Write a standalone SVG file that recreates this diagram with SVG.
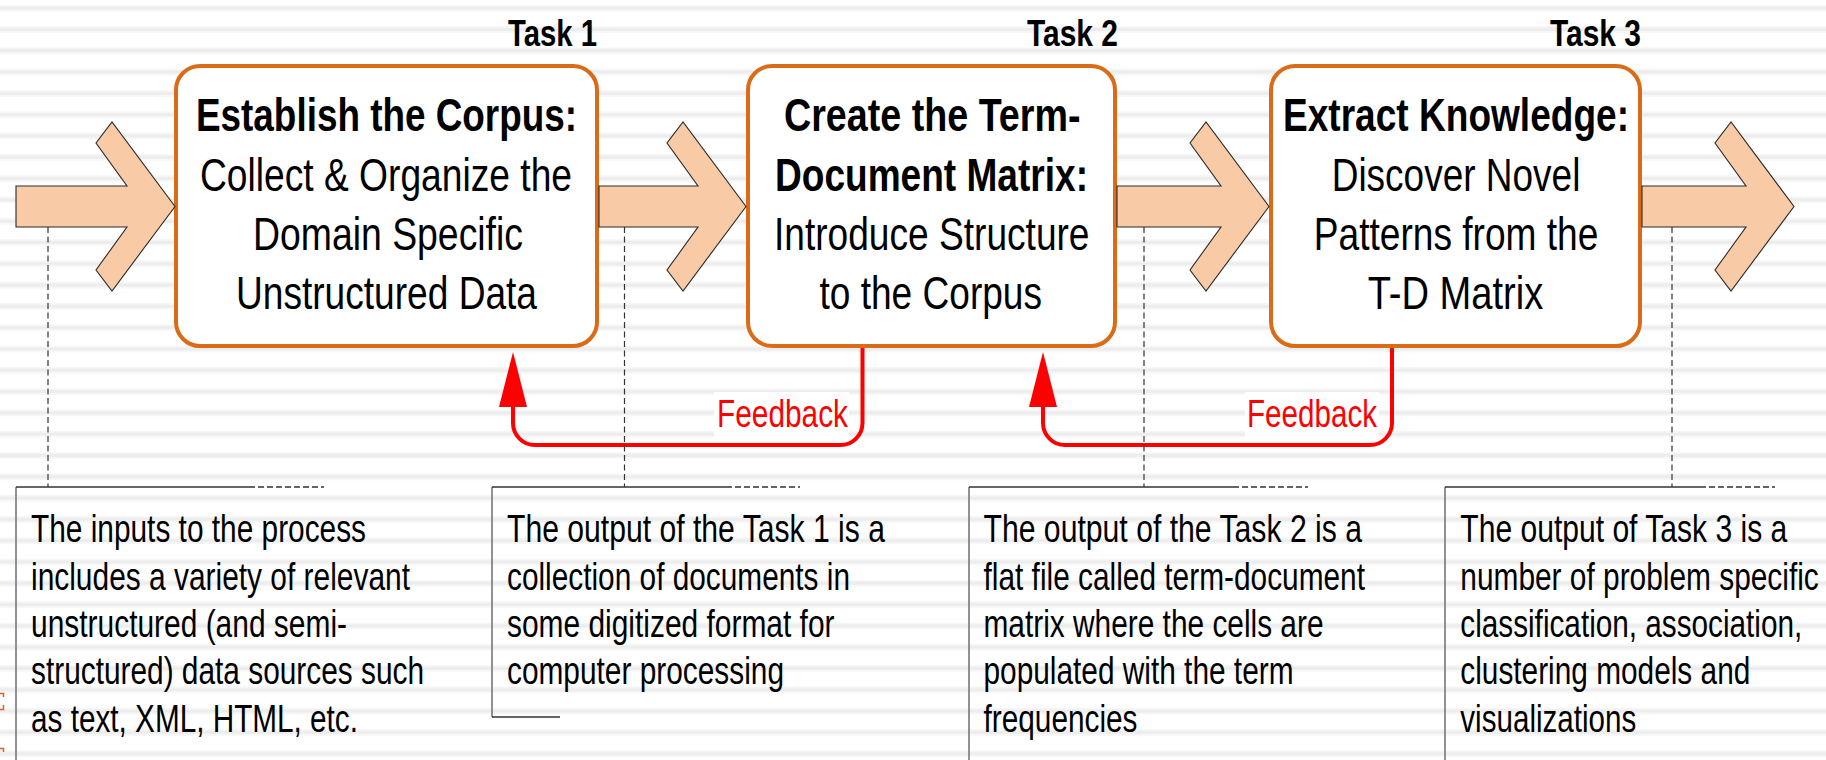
<svg xmlns="http://www.w3.org/2000/svg" width="1826" height="760" viewBox="0 0 1826 760">
  <style>
    .task { fill: #ffffff; stroke: #DA6B17; stroke-width: 4; }
    .flow { fill: #F8CBA6; stroke: #2a2a2a; stroke-width: 1.1; stroke-linejoin: miter; }
    .txt { font-family: "Liberation Sans Narrow", "Arial Narrow", "Liberation Sans", Arial, sans-serif; fill: #000000; }
    .head { font-size: 45.5px; font-weight: bold; }
    .body { font-size: 45.5px; }
    .label { font-size: 36px; font-weight: bold; }
    .note { font-size: 38px; }
    .fb-text { font-family: "Liberation Sans Narrow", "Arial Narrow", "Liberation Sans", Arial, sans-serif; font-size: 38px; fill: #FF0000; }
    .fb { fill: none; stroke: #FF0000; stroke-width: 4; marker-end: url(#redHead); }
    .leader { fill: none; stroke: #333333; stroke-width: 1.2; stroke-dasharray: 6 3.5; }
    .edge { fill: none; stroke: #6e6e6e; stroke-width: 1.5; }
    .rule { fill: none; stroke: #333333; stroke-width: 1.3; }
    .rule-dash { fill: none; stroke: #333333; stroke-width: 1.3; stroke-dasharray: 6 3; }
  </style>
  <defs>
    <pattern id="stripes" patternUnits="userSpaceOnUse" x="0" y="0" width="20" height="21.3">
      <rect x="0" y="0" width="20" height="21.3" fill="#ffffff"/>
      <rect x="0" y="5" width="20" height="1.5" fill="#F6F6F6"/>
      <rect x="0" y="6.5" width="20" height="3.5" fill="#EDEDED"/>
      <rect x="0" y="10" width="20" height="1.5" fill="#F6F6F6"/>
    </pattern>
    <marker id="redHead" viewBox="0 0 55 28" refX="0" refY="14" markerWidth="55" markerHeight="28" markerUnits="userSpaceOnUse" orient="auto">
      <path d="M0,0 L55,14 L0,28 Z" fill="#FF0000"/>
    </marker>
  </defs>

  <!-- slide background -->
  <rect x="0" y="0" width="1826" height="760" fill="url(#stripes)"/>
  <path d="M0,693.5 H3.5 V697 M3.5,705 V709.5 H0 M0,748.5 H3.5 V752" fill="none" stroke="#E0602A" stroke-width="1.5"/>

  <!-- task boxes -->
  <g id="task1">
    <rect class="task" x="176" y="66" width="421" height="280" rx="24" ry="24"/>
    <text class="txt label" x="508" y="46" textLength="89" lengthAdjust="spacingAndGlyphs">Task 1</text>
    <text class="txt head" x="196" y="131" textLength="381" lengthAdjust="spacingAndGlyphs">Establish the Corpus:</text>
    <text class="txt body" x="200" y="190.5" textLength="372" lengthAdjust="spacingAndGlyphs">Collect &amp; Organize the</text>
    <text class="txt body" x="253" y="250" textLength="270" lengthAdjust="spacingAndGlyphs">Domain Specific</text>
    <text class="txt body" x="236" y="309" textLength="301" lengthAdjust="spacingAndGlyphs">Unstructured Data</text>
  </g>

  <g id="task2">
    <rect class="task" x="748" y="66" width="367" height="280" rx="24" ry="24"/>
    <text class="txt label" x="1027" y="46" textLength="91" lengthAdjust="spacingAndGlyphs">Task 2</text>
    <text class="txt head" x="784" y="131" textLength="296.5" lengthAdjust="spacingAndGlyphs">Create the Term-</text>
    <text class="txt head" x="775" y="190.5" textLength="313" lengthAdjust="spacingAndGlyphs">Document Matrix:</text>
    <text class="txt body" x="774" y="250" textLength="315.5" lengthAdjust="spacingAndGlyphs">Introduce Structure</text>
    <text class="txt body" x="819.5" y="309" textLength="222.5" lengthAdjust="spacingAndGlyphs">to the Corpus</text>
  </g>

  <g id="task3">
    <rect class="task" x="1271" y="66" width="369" height="280" rx="24" ry="24"/>
    <text class="txt label" x="1550" y="46" textLength="91" lengthAdjust="spacingAndGlyphs">Task 3</text>
    <text class="txt head" x="1283" y="131" textLength="346" lengthAdjust="spacingAndGlyphs">Extract Knowledge:</text>
    <text class="txt body" x="1331.7" y="190.5" textLength="248.7" lengthAdjust="spacingAndGlyphs">Discover Novel</text>
    <text class="txt body" x="1313.8" y="250" textLength="284.6" lengthAdjust="spacingAndGlyphs">Patterns from the</text>
    <text class="txt body" x="1367.7" y="309" textLength="175.6" lengthAdjust="spacingAndGlyphs">T-D Matrix</text>
  </g>

  <!-- block arrows between the stages -->
  <g id="flow-arrows">
    <polygon id="flow-in" class="flow" points="16,186 127,186 96,143 112,122 175,206.5 112,291 96,270 127,227 16,227"/>
    <polygon id="flow-1-2" class="flow" points="599,186 698,186 667,143 683,122 746,206.5 683,291 667,270 698,227 599,227"/>
    <polygon id="flow-2-3" class="flow" points="1117,186 1221,186 1190,143 1206,122 1269,206.5 1206,291 1190,270 1221,227 1117,227"/>
    <polygon id="flow-out" class="flow" points="1642,186 1746,186 1715,143 1731,122 1794,206.5 1731,291 1715,270 1746,227 1642,227"/>
  </g>

  <!-- feedback loops and callout leaders -->
  <g id="connectors">
    <path id="feedback-2-1" class="fb" d="M862.5,348 V423 A22,22 0 0 1 840.5,445 H535 A22,22 0 0 1 513,423 V407"/>
    <path id="feedback-3-2" class="fb" d="M1392,348 V423 A22,22 0 0 1 1370,445 H1065 A22,22 0 0 1 1043,423 V407"/>
    <path class="leader" d="M48,227 V487"/>
    <path class="leader" d="M624.5,227 V487"/>
    <path class="leader" d="M1144,227 V487"/>
    <path class="leader" d="M1672,227 V487"/>
  </g>

  <g id="feedback-label-1">
    <rect x="714" y="392" width="135" height="46" fill="#ffffff"/>
    <text class="fb-text" x="717" y="427" textLength="131" lengthAdjust="spacingAndGlyphs">Feedback</text>
  </g>
  <g id="feedback-label-2">
    <rect x="1245" y="392" width="134" height="46" fill="#ffffff"/>
    <text class="fb-text" x="1247" y="427" textLength="130" lengthAdjust="spacingAndGlyphs">Feedback</text>
  </g>

  <!-- callout notes -->
  <g id="note-inputs">
    <path class="edge" d="M16,487 V760"/>
    <path class="rule" d="M16,487 H249"/>
    <path class="rule-dash" d="M249,487 H324"/>
    <text class="txt note" x="31" y="542" textLength="335" lengthAdjust="spacingAndGlyphs">The inputs to the process</text>
    <text class="txt note" x="31" y="589.5" textLength="379" lengthAdjust="spacingAndGlyphs">includes a variety of relevant</text>
    <text class="txt note" x="31" y="637" textLength="316" lengthAdjust="spacingAndGlyphs">unstructured (and semi-</text>
    <text class="txt note" x="31" y="684.3" textLength="393" lengthAdjust="spacingAndGlyphs">structured) data sources such</text>
    <text class="txt note" x="31" y="731.6" textLength="327" lengthAdjust="spacingAndGlyphs">as text, XML, HTML, etc.</text>
  </g>

  <g id="note-task1">
    <path class="edge" d="M492,487 V717"/>
    <path class="rule" d="M492,487 H726 M492,717 H560"/>
    <path class="rule-dash" d="M726,487 H800"/>
    <text class="txt note" x="507" y="542" textLength="378" lengthAdjust="spacingAndGlyphs">The output of the Task 1 is a</text>
    <text class="txt note" x="507" y="589.5" textLength="343" lengthAdjust="spacingAndGlyphs">collection of documents in</text>
    <text class="txt note" x="507" y="637" textLength="327.5" lengthAdjust="spacingAndGlyphs">some digitized format for</text>
    <text class="txt note" x="507" y="684.3" textLength="277" lengthAdjust="spacingAndGlyphs">computer processing</text>
  </g>

  <g id="note-task2">
    <path class="edge" d="M969,487 V760"/>
    <path class="rule" d="M969,487 H1233"/>
    <path class="rule-dash" d="M1233,487 H1308"/>
    <text class="txt note" x="983.5" y="542" textLength="378.5" lengthAdjust="spacingAndGlyphs">The output of the Task 2 is a</text>
    <text class="txt note" x="983.5" y="589.5" textLength="381.5" lengthAdjust="spacingAndGlyphs">flat file called term-document</text>
    <text class="txt note" x="983.5" y="637" textLength="340" lengthAdjust="spacingAndGlyphs">matrix where the cells are</text>
    <text class="txt note" x="983.5" y="684.3" textLength="310" lengthAdjust="spacingAndGlyphs">populated with the term</text>
    <text class="txt note" x="983.5" y="731.6" textLength="154" lengthAdjust="spacingAndGlyphs">frequencies</text>
  </g>

  <g id="note-task3">
    <path class="edge" d="M1445,487 V760"/>
    <path class="rule" d="M1445,487 H1700"/>
    <path class="rule-dash" d="M1700,487 H1775"/>
    <text class="txt note" x="1460.3" y="542" textLength="327" lengthAdjust="spacingAndGlyphs">The output of Task 3 is a</text>
    <text class="txt note" x="1460.3" y="589.5" textLength="358.5" lengthAdjust="spacingAndGlyphs">number of problem specific</text>
    <text class="txt note" x="1460.3" y="637" textLength="342" lengthAdjust="spacingAndGlyphs">classification, association,</text>
    <text class="txt note" x="1460.3" y="684.3" textLength="290" lengthAdjust="spacingAndGlyphs">clustering models and</text>
    <text class="txt note" x="1460.3" y="731.6" textLength="176" lengthAdjust="spacingAndGlyphs">visualizations</text>
  </g>
</svg>
